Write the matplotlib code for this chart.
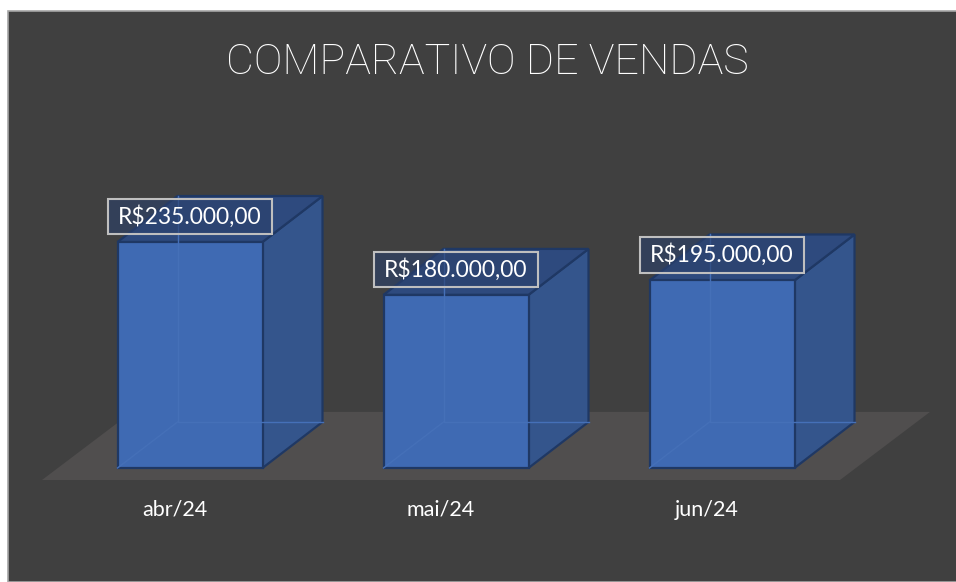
import matplotlib.pyplot as plt
from matplotlib.patches import Polygon, Rectangle

meses = ['abr/24', 'mai/24', 'jun/24']
vendas = [235000, 180000, 195000]
rotulos = ['R$235.000,00', 'R$180.000,00', 'R$195.000,00']

# cores
fundo = '#404040'
frente = '#3f6ab3'
lado = '#34558c'
topo = '#2e4a7e'
borda = '#1f3864'
piso = '#504e4e'

# escala: 266 px por categoria, ~0.9617 px por R$1000
PX_X = 266.0
PX_Y = 0.0009617
W, H = 956, 582
x0_px, y0_px = 190, 468  # centro da 1a barra e base das barras (px)

LARG = 145 / PX_X          # largura da barra
DX = 60 / PX_X             # profundidade (x)
DY = 46 / PX_Y             # profundidade (y)

fig = plt.figure(figsize=(W / 100, H / 100), dpi=100, facecolor='white')
fig.patches.append(Rectangle((8 / W, 0), 1, 1 - 11 / H, transform=fig.transFigure,
                             facecolor=fundo, edgecolor='#a6a6a6', lw=1.2, zorder=-10))

ax = fig.add_axes([0, 0, 1, 1])
ax.set_xlim(-x0_px / PX_X, (W - x0_px) / PX_X)
ax.set_ylim(-(H - y0_px) / PX_Y, y0_px / PX_Y)
ax.axis('off')
ax.patch.set_alpha(0)

# piso
fy = -12 / PX_Y
fxa, fxb = (42 - x0_px) / PX_X, (840 - x0_px) / PX_X
fdx, fdy = 1.5 * DX, 1.48 * DY
ax.add_patch(Polygon([(fxa, fy), (fxb, fy), (fxb + fdx, fy + fdy), (fxa + fdx, fy + fdy)],
                     closed=True, facecolor=piso, edgecolor='none', zorder=1))

xs = list(range(len(meses)))
ax.bar(xs, vendas, width=LARG, color=frente, edgecolor=borda, linewidth=1.6, zorder=3)

for x, v in zip(xs, vendas):
    l, r = x - LARG / 2, x + LARG / 2
    # arestas ocultas (barra semitransparente)
    ax.plot([l + DX, l + DX, r + DX], [v + DY, DY, DY], color='#4570b8', lw=1, zorder=3.5)
    ax.plot([l, l + DX], [0, DY], color='#4570b8', lw=1, zorder=3.5)
    ax.add_patch(Polygon([(r, 0), (r + DX, DY), (r + DX, v + DY), (r, v)], closed=True,
                         facecolor=lado, edgecolor=borda, lw=1.6, zorder=2))
    ax.add_patch(Polygon([(l, v), (r, v), (r + DX, v + DY), (l + DX, v + DY)], closed=True,
                         facecolor=topo, edgecolor=borda, lw=1.6, zorder=2))

for x, v, t in zip(xs, vendas, rotulos):
    ax.text(x, v + 25.5 / PX_Y, t, ha='center', va='center', color='white',
            fontsize=16.5, family='Lato', zorder=6,
            bbox=dict(boxstyle='square,pad=0.45', mutation_aspect=0.63,
                      facecolor=(0.17, 0.25, 0.42, 0.6), edgecolor='#bfbfbf', lw=1.5))

for x, m in zip(xs, meses):
    ax.text(x - 15 / PX_X, -42 / PX_Y, m, ha='center', va='center', color='white',
            fontsize=15.5, family='Lato')

fig.text(487 / W, 1 - 62 / H, 'COMPARATIVO DE VENDAS', ha='center', va='center',
         color='white', fontsize=31, family='Roboto', fontweight='light')

fig.savefig('out.png', dpi=100, facecolor=fig.get_facecolor())
